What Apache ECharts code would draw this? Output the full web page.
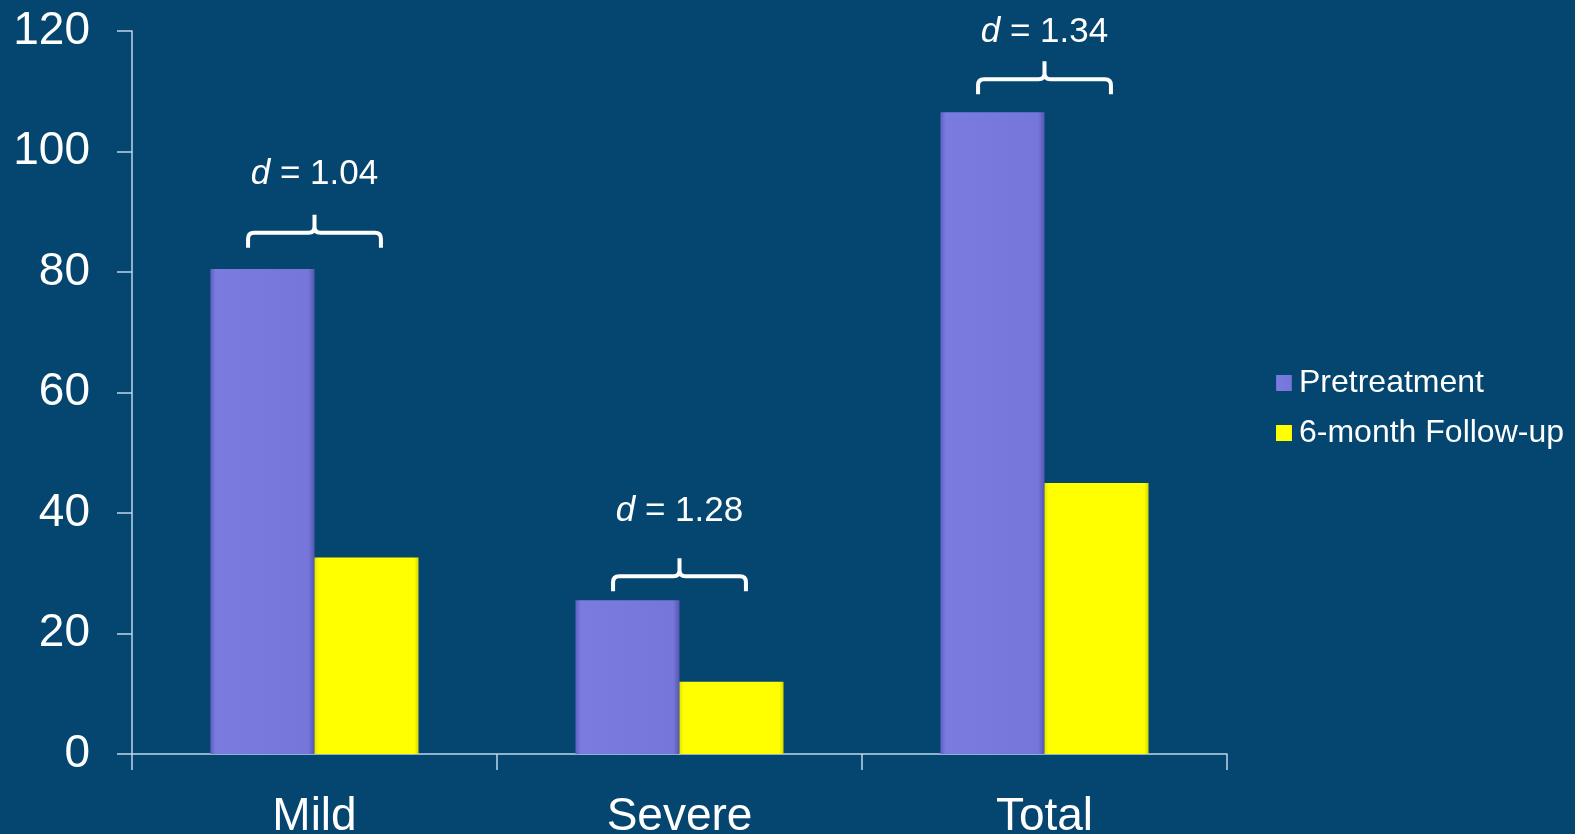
<!DOCTYPE html>
<html>
<head>
<meta charset="utf-8">
<script src="https://cdn.jsdelivr.net/npm/echarts@6/dist/echarts.min.js"></script>
<style>
html,body{margin:0;padding:0;background:#04466f;}
#chart{width:1575px;height:834px;}
</style>
</head>
<body>
<div id="chart"></div>
<script>
// ---- data ----
const categories = ['Mild', 'Severe', 'Total'];
const seriesNames = ['Pretreatment', '6-month Follow-up'];
const pretreatment = [80.5, 25.5, 106.5];
const followUp = [32.6, 12.0, 45.0];
const effectSizes = ['1.04', '1.28', '1.34'];
const bracketLevels = [86.5, 29.5, 112];
const labelLevels = [94.5, 38.6, 118.1];
const yTicks = { min: 0, max: 120, interval: 20 };

// ---- chart ----
const chart = echarts.init(document.getElementById('chart'), null, { renderer: 'canvas' });
const font = 'Liberation Sans, Arial, sans-serif';
const axisColor = '#bcd6ea';

const purple = {
  type: 'linear', x: 0, y: 0, x2: 1, y2: 0,
  colorStops: [
    { offset: 0, color: '#6060c4' },
    { offset: 0.05, color: '#7b7bdf' },
    { offset: 0.94, color: '#7676da' },
    { offset: 1, color: '#5656b2' }
  ]
};
const yellow = {
  type: 'linear', x: 0, y: 0, x2: 1, y2: 0,
  colorStops: [
    { offset: 0, color: '#e6e600' },
    { offset: 0.04, color: '#ffff00' },
    { offset: 0.96, color: '#ffff00' },
    { offset: 1, color: '#d8d800' }
  ]
};

const annotData = categories.map((c, i) => [i, bracketLevels[i], labelLevels[i], effectSizes[i]]);

function renderBracket(params, api) {
  const idx = api.value(0);
  const p = api.coord([idx, api.value(1)]);
  const lp = api.coord([idx, api.value(2)]);
  const band = api.size([1, 0])[0];
  const w = band * 0.364;
  const x0 = p[0] - w / 2, x1 = p[0] + w / 2, y = p[1], cx = p[0];
  const r = 6;
  const path = 'M' + x0 + ' ' + (y + 15) +
    ' L' + x0 + ' ' + (y + r) +
    ' Q' + x0 + ' ' + y + ' ' + (x0 + r) + ' ' + y +
    ' L' + (cx - r) + ' ' + y +
    ' Q' + cx + ' ' + y + ' ' + cx + ' ' + (y - r) +
    ' L' + cx + ' ' + (y - 18) +
    ' M' + cx + ' ' + (y - r) +
    ' Q' + cx + ' ' + y + ' ' + (cx + r) + ' ' + y +
    ' L' + (x1 - r) + ' ' + y +
    ' Q' + x1 + ' ' + y + ' ' + x1 + ' ' + (y + r) +
    ' L' + x1 + ' ' + (y + 15);
  return {
    type: 'group',
    children: [
      {
        type: 'path',
        shape: { pathData: path },
        style: { fill: null, stroke: '#ffffff', lineWidth: 4, lineCap: 'butt', lineJoin: 'round' }
      },
      {
        type: 'text',
        x: cx, y: lp[1] + 7,
        style: {
          text: '{i|d} = ' + api.value(3),
          rich: {
            i: { fontStyle: 'italic', fontSize: 35, fontFamily: font, fill: '#ffffff' }
          },
          fontSize: 35, fontFamily: font, fill: '#ffffff',
          align: 'center', verticalAlign: 'bottom'
        }
      }
    ]
  };
}

chart.setOption({
  backgroundColor: '#04466f',
  animation: false,
  grid: { left: 132, right: 348, top: 31, bottom: 80, containLabel: false, outerBoundsMode: 'none' },
  legend: {
    orient: 'vertical',
    left: 1271,
    top: 362,
    itemWidth: 16,
    itemHeight: 16,
    itemGap: 18,
    icon: 'rect',
    textStyle: { color: '#ffffff', fontSize: 32, fontFamily: font, padding: [0, 0, 0, 2] },
    data: seriesNames
  },
  xAxis: {
    type: 'category',
    data: categories,
    axisLine: { show: true, lineStyle: { color: axisColor, width: 1.5 } },
    axisTick: { show: true, length: 16, alignWithLabel: false, lineStyle: { color: axisColor, width: 1.5 } },
    axisLabel: { color: '#ffffff', fontSize: 46, fontFamily: font, margin: 40 },
    splitLine: { show: false }
  },
  yAxis: {
    type: 'value',
    min: yTicks.min,
    max: yTicks.max,
    interval: yTicks.interval,
    axisLine: { show: true, lineStyle: { color: axisColor, width: 1.5 } },
    axisTick: { show: true, length: 15, lineStyle: { color: axisColor, width: 1.5 } },
    axisLabel: { color: '#ffffff', fontSize: 46, fontFamily: font, margin: 42 },
    splitLine: { show: false }
  },
  series: [
    {
      name: seriesNames[0],
      type: 'bar',
      data: pretreatment,
      barGap: '0%',
      barCategoryGap: '43%',
      itemStyle: { color: purple },
      z: 2
    },
    {
      name: seriesNames[1],
      type: 'bar',
      data: followUp,
      barGap: '0%',
      barCategoryGap: '43%',
      itemStyle: { color: yellow },
      z: 2
    },
    {
      type: 'custom',
      renderItem: renderBracket,
      data: annotData,
      encode: { x: 0, y: 1 },
      silent: true,
      z: 5
    }
  ]
});
</script>
</body>
</html>
